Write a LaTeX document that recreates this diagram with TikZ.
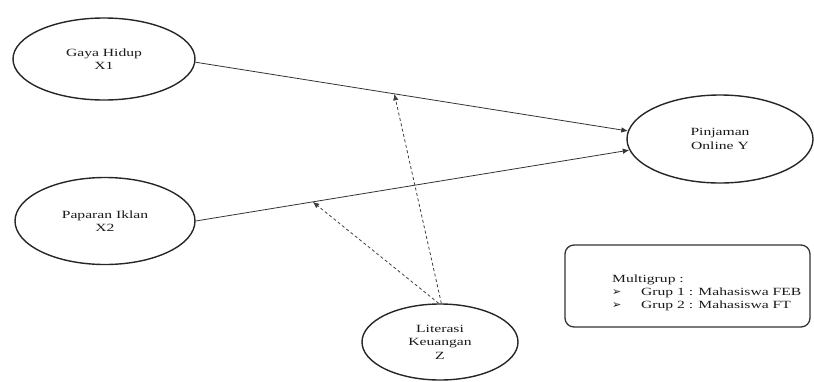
\documentclass[tikz,border=0pt]{standalone}
\usepackage{fontspec}
\setmainfont{Liberation Serif}[FakeStretch=1.42]
\newfontfamily\symfont{DejaVu Sans}
\usetikzlibrary{arrows.meta,shapes.geometric}
\begin{document}
\begin{tikzpicture}[x=1pt,y=-1pt,
  var/.style={draw=black!85, line width=1.4pt, ellipse, inner sep=0pt, align=center,
    font=\fontsize{11}{13.5}\selectfont, text=black!90},
  path/.style={draw=black!80, line width=0.8pt, -{Latex[length=6.5pt,width=5.5pt]}},
  mod/.style={draw=black!75, line width=0.8pt, dash pattern=on 3pt off 2.5pt, -{Latex[length=6.5pt,width=5.5pt]}},
  legend/.style={draw=black!80, line width=1.3pt, rounded corners=9pt, inner sep=0pt}]
\useasboundingbox (0,0) rectangle (814,381);
\node[var, minimum width=182pt, minimum height=82pt] (x1) at (104,59) {Gaya Hidup\\X1};
\node[var, minimum width=180pt, minimum height=87pt] (x2) at (105,221) {Paparan Iklan\\X2};
\node[var, minimum width=186pt, minimum height=88pt] (y) at (720,139) {Pinjaman\\Online Y};
\node[var, minimum width=156pt, minimum height=76pt] (z) at (440,342) {Literasi\\Keuangan\\Z};
\draw[path] (x1.-2) -- (y.175) coordinate[pos=0.46] (m1);
\draw[path] (x2.east) -- (y.187) coordinate[pos=0.27] (m2);
\draw[mod] (z.88) -- (m1);
\draw[mod] (z.92) -- (m2);
\node[legend, minimum width=245pt, minimum height=82pt] (leg) at (687.5,286) {};
\node[anchor=west, align=left, inner sep=0pt, font=\fontsize{11}{13}\selectfont, text=black!90] (legtxt) at (612,293)
  {Multigrup :\\
   \makebox[29pt][l]{\symfont\fontsize{11}{13}\selectfont ➢}Grup 1 : Mahasiswa FEB\\
   \makebox[29pt][l]{\symfont\fontsize{11}{13}\selectfont ➢}Grup 2 : Mahasiswa FT};
\end{tikzpicture}
\end{document}
